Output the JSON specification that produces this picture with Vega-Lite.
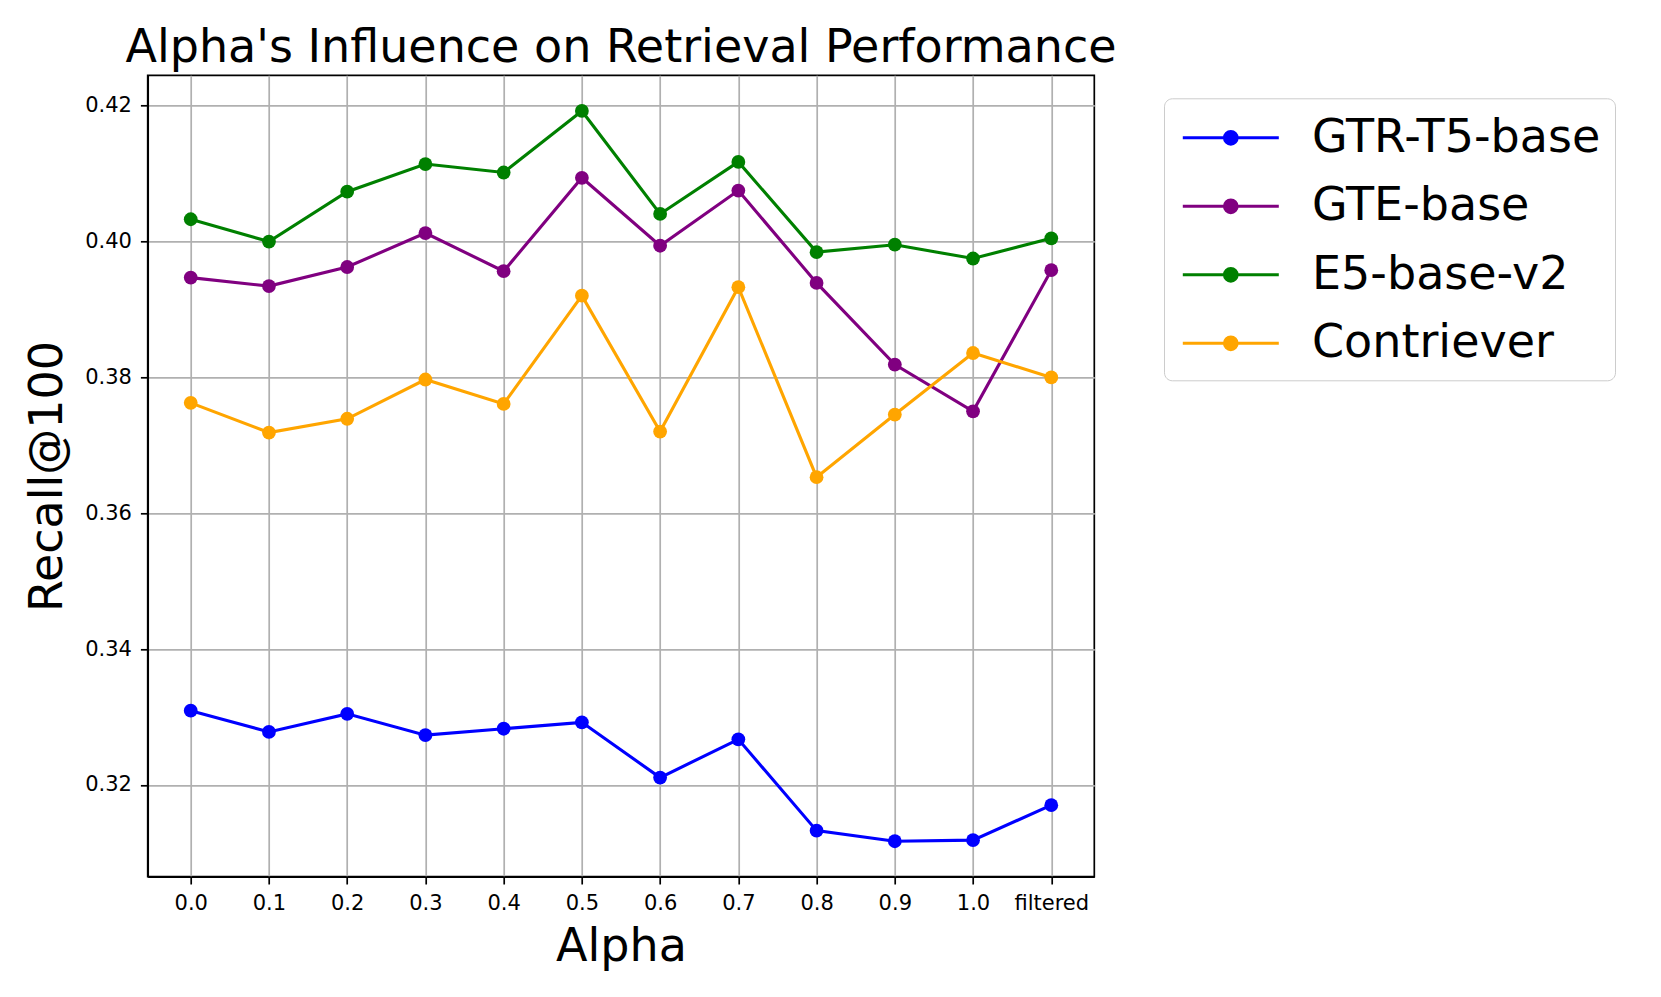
{
  "$schema": "https://vega.github.io/schema/vega-lite/v6.json",
  "autosize": "none",
  "width": 946.6,
  "height": 801.4,
  "padding": {"left": 147.7, "top": 75.3, "right": 566.7, "bottom": 120.3},
  "background": "white",
  "title": {
    "text": "Alpha's Influence on Retrieval Performance",
    "font": "DejaVu Sans",
    "fontSize": 46,
    "fontWeight": "normal",
    "color": "black",
    "anchor": "middle",
    "baseline": "alphabetic",
    "offset": -33
  },
  "config": {
    "view": {"stroke": "black", "strokeWidth": 1.7},
    "font": "DejaVu Sans"
  },
  "data": {
    "values": [
      {"alpha": "0.0", "model": "GTR-T5-base", "recall": 0.33094},
      {"alpha": "0.1", "model": "GTR-T5-base", "recall": 0.32781},
      {"alpha": "0.2", "model": "GTR-T5-base", "recall": 0.33047},
      {"alpha": "0.3", "model": "GTR-T5-base", "recall": 0.32734},
      {"alpha": "0.4", "model": "GTR-T5-base", "recall": 0.32828},
      {"alpha": "0.5", "model": "GTR-T5-base", "recall": 0.32922},
      {"alpha": "0.6", "model": "GTR-T5-base", "recall": 0.32109},
      {"alpha": "0.7", "model": "GTR-T5-base", "recall": 0.32672},
      {"alpha": "0.8", "model": "GTR-T5-base", "recall": 0.31328},
      {"alpha": "0.9", "model": "GTR-T5-base", "recall": 0.31172},
      {"alpha": "1.0", "model": "GTR-T5-base", "recall": 0.31188},
      {"alpha": "filtered", "model": "GTR-T5-base", "recall": 0.31703},
      {"alpha": "0.0", "model": "GTE-base", "recall": 0.39469},
      {"alpha": "0.1", "model": "GTE-base", "recall": 0.39344},
      {"alpha": "0.2", "model": "GTE-base", "recall": 0.39625},
      {"alpha": "0.3", "model": "GTE-base", "recall": 0.40125},
      {"alpha": "0.4", "model": "GTE-base", "recall": 0.39563},
      {"alpha": "0.5", "model": "GTE-base", "recall": 0.40938},
      {"alpha": "0.6", "model": "GTE-base", "recall": 0.39938},
      {"alpha": "0.7", "model": "GTE-base", "recall": 0.40750},
      {"alpha": "0.8", "model": "GTE-base", "recall": 0.39391},
      {"alpha": "0.9", "model": "GTE-base", "recall": 0.38188},
      {"alpha": "1.0", "model": "GTE-base", "recall": 0.37500},
      {"alpha": "filtered", "model": "GTE-base", "recall": 0.39578},
      {"alpha": "0.0", "model": "E5-base-v2", "recall": 0.40328},
      {"alpha": "0.1", "model": "E5-base-v2", "recall": 0.40000},
      {"alpha": "0.2", "model": "E5-base-v2", "recall": 0.40734},
      {"alpha": "0.3", "model": "E5-base-v2", "recall": 0.41141},
      {"alpha": "0.4", "model": "E5-base-v2", "recall": 0.41016},
      {"alpha": "0.5", "model": "E5-base-v2", "recall": 0.41922},
      {"alpha": "0.6", "model": "E5-base-v2", "recall": 0.40406},
      {"alpha": "0.7", "model": "E5-base-v2", "recall": 0.41172},
      {"alpha": "0.8", "model": "E5-base-v2", "recall": 0.39844},
      {"alpha": "0.9", "model": "E5-base-v2", "recall": 0.39953},
      {"alpha": "1.0", "model": "E5-base-v2", "recall": 0.39750},
      {"alpha": "filtered", "model": "E5-base-v2", "recall": 0.40047},
      {"alpha": "0.0", "model": "Contriever", "recall": 0.37625},
      {"alpha": "0.1", "model": "Contriever", "recall": 0.37188},
      {"alpha": "0.2", "model": "Contriever", "recall": 0.37391},
      {"alpha": "0.3", "model": "Contriever", "recall": 0.37969},
      {"alpha": "0.4", "model": "Contriever", "recall": 0.37609},
      {"alpha": "0.5", "model": "Contriever", "recall": 0.39203},
      {"alpha": "0.6", "model": "Contriever", "recall": 0.37203},
      {"alpha": "0.7", "model": "Contriever", "recall": 0.39328},
      {"alpha": "0.8", "model": "Contriever", "recall": 0.36531},
      {"alpha": "0.9", "model": "Contriever", "recall": 0.37453},
      {"alpha": "1.0", "model": "Contriever", "recall": 0.38359},
      {"alpha": "filtered", "model": "Contriever", "recall": 0.38000}
    ]
  },
  "encoding": {
    "x": {
      "field": "alpha",
      "type": "ordinal",
      "sort": ["0.0", "0.1", "0.2", "0.3", "0.4", "0.5", "0.6", "0.7", "0.8", "0.9", "1.0", "filtered"],
      "scale": {"type": "point", "padding": 0.55},
      "axis": {
        "title": "Alpha",
        "titleFont": "DejaVu Sans",
        "titleFontSize": 46,
        "titleFontWeight": "normal",
        "titleColor": "black",
        "titleBaseline": "alphabetic",
        "titleY": 83.3,
        "labelAngle": 0,
        "labelFont": "DejaVu Sans",
        "labelFontSize": 21,
        "labelColor": "black",
        "labelPadding": 8,
        "tickSize": 7.3,
        "tickWidth": 1.7,
        "tickColor": "black",
        "domainColor": "black",
        "domainWidth": 1.7,
        "grid": true,
        "gridColor": "#b0b0b0",
        "gridWidth": 1.7
      }
    },
    "y": {
      "field": "recall",
      "type": "quantitative",
      "scale": {"domain": [0.3065, 0.42447], "nice": false, "zero": false},
      "axis": {
        "title": "Recall@100",
        "titleFont": "DejaVu Sans",
        "titleFontSize": 46,
        "titleFontWeight": "normal",
        "titleColor": "black",
        "titleAngle": -90,
        "titleBaseline": "alphabetic",
        "titleX": -86,
        "values": [0.32, 0.34, 0.36, 0.38, 0.40, 0.42],
        "format": ".2f",
        "labelFont": "DejaVu Sans",
        "labelFontSize": 21,
        "labelColor": "black",
        "labelPadding": 9,
        "tickSize": 7.3,
        "tickWidth": 1.7,
        "tickColor": "black",
        "domainColor": "black",
        "domainWidth": 1.7,
        "grid": true,
        "gridColor": "#b0b0b0",
        "gridWidth": 1.7
      }
    },
    "color": {
      "field": "model",
      "type": "nominal",
      "sort": ["GTR-T5-base", "GTE-base", "E5-base-v2", "Contriever"],
      "scale": {
        "domain": ["GTR-T5-base", "GTE-base", "E5-base-v2", "Contriever"],
        "range": ["#0000ff", "#800080", "#008000", "#ffa500"]
      },
      "legend": {
        "title": null,
        "orient": "none",
        "legendX": 1016.3,
        "legendY": 23,
        "padding": 14,
        "rowPadding": 19.5,
        "fillColor": "white",
        "strokeColor": "#cccccc",
        "cornerRadius": 8,
        "labelFont": "DejaVu Sans",
        "labelFontSize": 46,
        "labelColor": "black",
        "labelOffset": 83,
        "labelLimit": 600,
        "symbolSize": 2304,
        "symbolStrokeWidth": 3,
        "symbolType": "M-0.8625,0L3.1375,0M1.4025,0A0.265,0.265,0,1,1,0.8725,0A0.265,0.265,0,1,1,1.4025,0Z",
        "encode": {
          "symbols": {
            "update": {
              "fill": {"scale": "color", "field": "value"},
              "stroke": {"scale": "color", "field": "value"},
              "strokeWidth": {"value": 3},
              "opacity": {"value": 1}
            }
          }
        }
      }
    }
  },
  "layer": [
    {"mark": {"type": "line", "strokeWidth": 3.1}},
    {"mark": {"type": "point", "filled": true, "size": 190, "opacity": 1}}
  ]
}
